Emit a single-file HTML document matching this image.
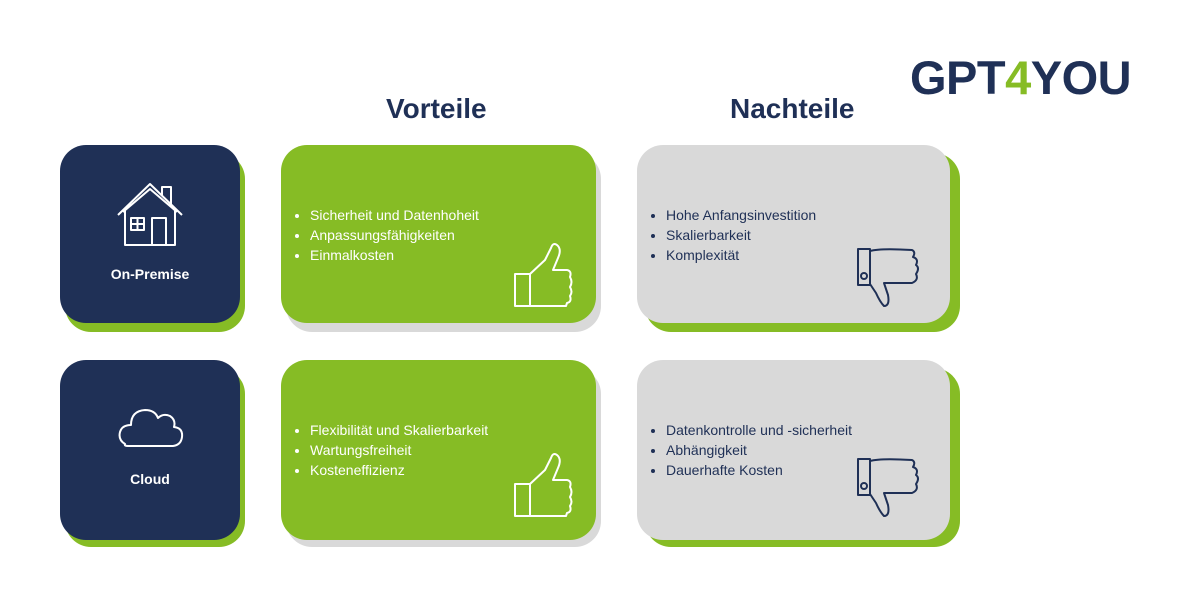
<!DOCTYPE html>
<html><head><meta charset="utf-8"><style>
body{margin:0;width:1200px;height:600px;background:#fff;position:relative;overflow:hidden;font-family:"Liberation Sans",sans-serif}
.b{position:absolute;border-radius:26px}
.navy{background:#1f3056}.green{background:#86bc25}.gray{background:#d9d9d9}
.h{position:absolute;font-weight:bold;color:#1f3056;font-size:28px}
ul{position:absolute;margin:0;padding:0 0 0 20px;font-size:14px;line-height:20px}
.lbl{position:absolute;color:#fff;font-weight:bold;font-size:14px;width:180px;text-align:center}
svg{position:absolute;left:0;top:0}
</style></head><body>
<div style="position:absolute;left:910px;top:50px;font-size:47px;font-weight:bold;color:#1f3056;letter-spacing:-0.5px">GPT<span style="color:#86bc25">4</span>YOU</div>
<div class="h" style="left:386px;top:93px">Vorteile</div>
<div class="h" style="left:730px;top:93px">Nachteile</div>

<div class="b green" style="left:65px;top:153px;width:180px;height:179px"></div>
<div class="b navy" style="left:60px;top:145px;width:180px;height:178px"></div>
<div class="b gray" style="left:286px;top:153px;width:315px;height:179px"></div>
<div class="b green" style="left:281px;top:145px;width:315px;height:178px"></div>
<div class="b green" style="left:645px;top:153px;width:315px;height:179px"></div>
<div class="b gray" style="left:637px;top:145px;width:313px;height:178px"></div>

<div class="b green" style="left:65px;top:368px;width:180px;height:179px"></div>
<div class="b navy" style="left:60px;top:360px;width:180px;height:180px"></div>
<div class="b gray" style="left:286px;top:368px;width:315px;height:179px"></div>
<div class="b green" style="left:281px;top:360px;width:315px;height:180px"></div>
<div class="b green" style="left:645px;top:368px;width:315px;height:179px"></div>
<div class="b gray" style="left:637px;top:360px;width:313px;height:180px"></div>

<div class="lbl" style="left:60px;top:266px">On-Premise</div>
<div class="lbl" style="left:60px;top:471px">Cloud</div>

<ul style="left:290px;top:205px;color:#fff"><li>Sicherheit und Datenhoheit</li><li>Anpassungsfähigkeiten</li><li>Einmalkosten</li></ul>
<ul style="left:646px;top:205px;color:#1f3056"><li>Hohe Anfangsinvestition</li><li>Skalierbarkeit</li><li>Komplexität</li></ul>
<ul style="left:290px;top:420px;color:#fff"><li>Flexibilität und Skalierbarkeit</li><li>Wartungsfreiheit</li><li>Kosteneffizienz</li></ul>
<ul style="left:646px;top:420px;color:#1f3056"><li>Datenkontrolle und -sicherheit</li><li>Abhängigkeit</li><li>Dauerhafte Kosten</li></ul>

<svg width="1200" height="600" fill="none" stroke-width="2" stroke-linejoin="round">
<g stroke="#fff">
<path d="M118,215 L150,184 L182,215 M125,208 V245 H175 V208 M123,212 L150,189 L177,212"/>
<path d="M162,196 V187 H171 V204"/>
<rect x="131" y="218" width="13" height="12"/><path d="M137.5,218V230M131,224H144"/>
<rect x="152" y="218" width="14" height="27"/>
<path d="M125,444 Q118,440 120,432 Q122,425 131,425 Q131,411 145,410 Q155,410 158,418 Q163,413 170,416 Q176,420 174,427 Q183,428 182,437 Q181,445 173,446 H128 Q124,446 125,444Z"/>
<g id="tu">
<rect x="515" y="484" width="15" height="32"/>
<path d="M530,484 L545,470 L551,458 Q553,452 557,455 Q562,459 558,468 L553,480 L567,480 Q572,481 570,487 Q573,492 570,497 Q573,502 570,506 Q572,512 567,513 L566,516 L530,516"/>
</g>
<use href="#tu" transform="translate(0,-210)"/>
</g>
<g stroke="#1f3056" id="td">
<rect x="858" y="459" width="12" height="36"/><circle cx="864" cy="486" r="3"/>
<path d="M870,461 Q880,458 912,460 Q916,462 913,467 Q919,469 916,475 Q920,478 916,484 Q919,490 912,493 L884,493 L888,505 Q890,516 884,516 Q880,512 876,503 L870,494"/>
</g>
<use href="#td" transform="translate(0,-210)"/>
</svg>
</body></html>
